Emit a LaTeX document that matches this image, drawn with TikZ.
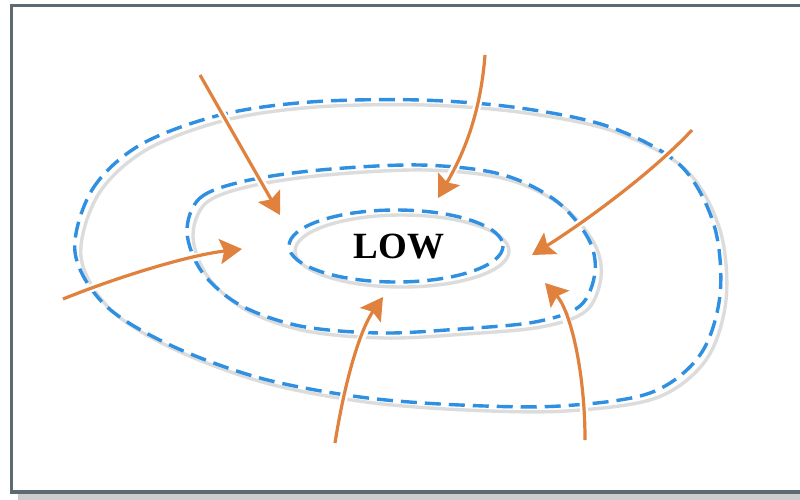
\documentclass[tikz,border=0pt]{standalone}
\usepackage{fontspec}
\setmainfont{Liberation Serif}
\usetikzlibrary{arrows.meta}

\definecolor{isoblue}{HTML}{2F8FE0}
\definecolor{isoshade}{HTML}{DCDCDC}
\definecolor{windorange}{HTML}{E0823D}
\definecolor{framegrey}{HTML}{5E6A72}
\definecolor{frameshade}{HTML}{CCCCCC}

\tikzset{
  isobar/.style={draw=isoblue, line width=3.4pt, dash pattern=on 16pt off 8pt},
  isoshadow/.style={draw=isoshade, line width=3.4pt, shift={(6,5)}},
  wind/.style={draw=windorange, line width=3.2pt,
    -{Stealth[length=22pt, width=25pt, inset=4pt]},
    preaction={draw=white, line width=8pt, arrows=-}},
  label/.style={font=\fontsize{37}{42}\selectfont\bfseries, text=black}
}

\begin{document}
\begin{tikzpicture}[x=1pt, y=-1pt]
  \useasboundingbox (0,0) rectangle (800,499);

  % frame with drop shadow
  \fill[frameshade] (18,11) rectangle (815,510);
  \filldraw[fill=white, draw=framegrey, line width=3.2pt] (11.5,5.5) rectangle (806,492);

  % contour shapes
  \def\outerpath{plot[smooth cycle, tension=0.55] coordinates {
    (75,252) (92,190) (140,145) (220,115) (310,102) (420,100) (520,108)
    (610,127) (680,165) (714,225) (720,295) (700,355) (650,393) (560,406)
    (460,405) (360,397) (260,378) (170,345) (105,305)}}
  \def\middlepath{plot[smooth cycle, tension=0.55] coordinates {
    (187,232) (200,198) (245,181) (320,170) (420,165) (500,174) (555,200)
    (588,238) (595,272) (580,306) (535,322) (460,329) (380,333) (300,326)
    (240,305) (202,272)}}

  % grey shading under each isobar
  \draw[isoshadow] \outerpath;
  \draw[isoshadow] \middlepath;
  \draw[isoshadow] (396,246) ellipse [x radius=107, y radius=36];

  % dashed isobars
  \draw[isobar] \outerpath;
  \draw[isobar] \middlepath;
  \draw[isobar] (396,246) ellipse [x radius=107, y radius=36];

  % centre label
  \node[label] (low) at (399,247) {LOW};

  % wind arrows converging on the low
  \coordinate (s1) at (200,75);  \coordinate (t1) at (280,215);
  \coordinate (s2) at (485,55);  \coordinate (t2) at (438,198);
  \coordinate (s3) at (692,130); \coordinate (t3) at (532,255);
  \coordinate (s4) at (63,299);  \coordinate (t4) at (242,249);
  \coordinate (s5) at (335,443); \coordinate (t5) at (383,297);
  \coordinate (s6) at (585,440); \coordinate (t6) at (545,283);

  \draw[wind] (s1) -- (t1);
  \draw[wind] (s2) .. controls (480,120) and (460,160) .. (t2);
  \draw[wind] (s3) .. controls (650,175) and (580,225) .. (t3);
  \draw[wind] (s4) .. controls (120,276) and (190,255) .. (t4);
  \draw[wind] (s5) .. controls (345,380) and (360,330) .. (t5);
  \draw[wind] (s6) .. controls (585,370) and (570,310) .. (t6);
\end{tikzpicture}
\end{document}
